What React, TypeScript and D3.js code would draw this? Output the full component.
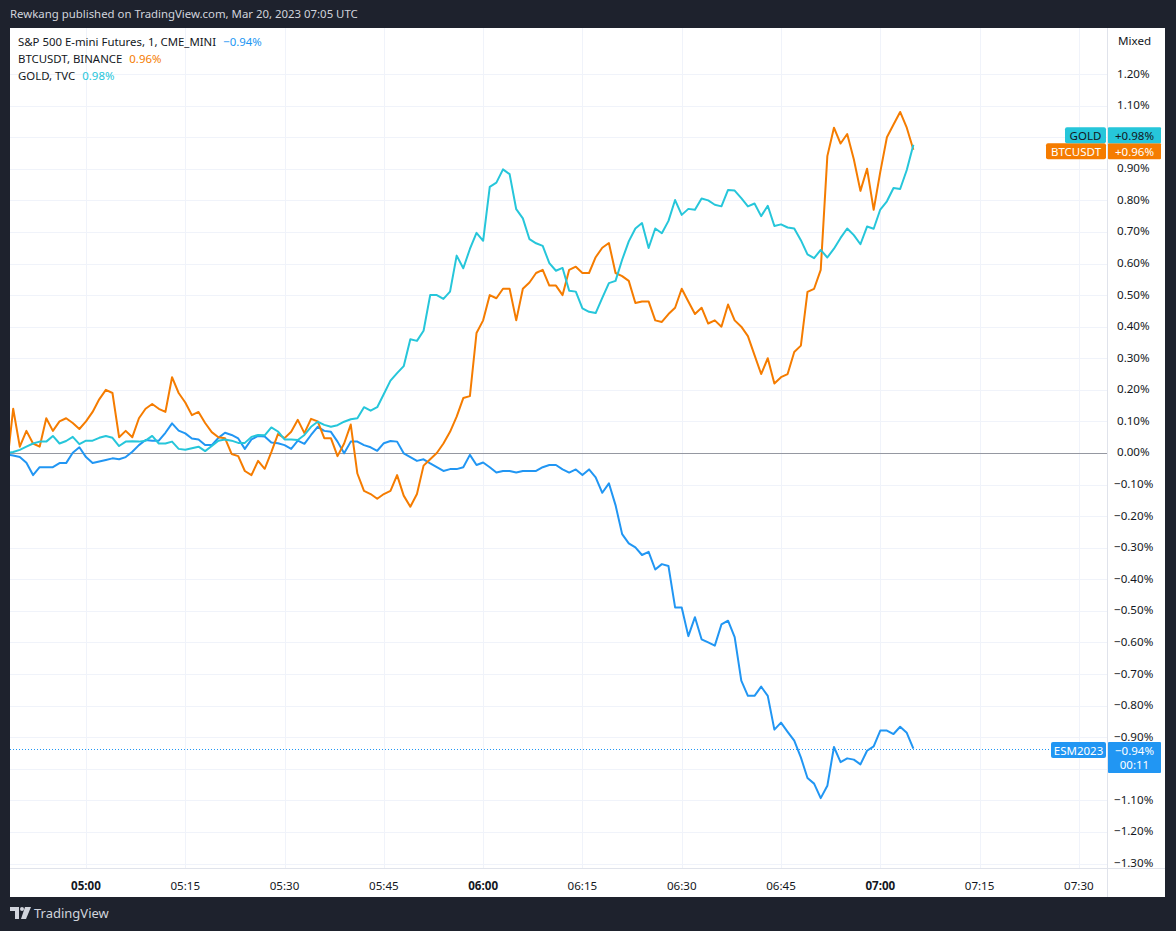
import React, { useEffect, useRef } from 'react'
import * as d3 from 'd3'

// 1-minute closes, % change, starting 04:48 UTC
const START = Date.UTC(2023, 2, 20, 4, 48)

const esValues = [
  -0.005, -0.008, -0.013, -0.031, -0.07, -0.045, -0.045, -0.045, -0.032, -0.032,
  0.001, 0.018, -0.013, -0.032, -0.027, -0.022, -0.017, -0.02, -0.013, 0.004,
  0.025, 0.041, 0.039, 0.039, 0.064, 0.094, 0.071, 0.062, 0.046, 0.043,
  0.025, 0.025, 0.048, 0.064, 0.057, 0.046, 0.013, 0.043, 0.054, 0.052,
  0.033, 0.031, 0.025, 0.013, 0.039, 0.029, 0.057, 0.083, 0.07, 0.067,
  0.036, -0.001, 0.036, 0.036, 0.025, 0.018, 0.007, 0.031, 0.038, 0.036,
  -0.001, -0.013, -0.025, -0.02, -0.033, -0.045, -0.057, -0.051, -0.051, -0.045,
  -0.006, -0.038, -0.03, -0.045, -0.062, -0.057, -0.057, -0.062, -0.057, -0.057,
  -0.057, -0.045, -0.038, -0.038, -0.052, -0.062, -0.052, -0.07, -0.052, -0.077,
  -0.126, -0.096, -0.165, -0.257, -0.286, -0.299, -0.323, -0.313, -0.369, -0.352,
  -0.358, -0.489, -0.489, -0.58, -0.52, -0.59, -0.6, -0.61, -0.543, -0.531,
  -0.583, -0.721, -0.769, -0.769, -0.74, -0.769, -0.876, -0.854, -0.883, -0.911,
  -0.964, -1.029, -1.047, -1.093, -1.054, -0.931, -0.979, -0.967, -0.971, -0.986,
  -0.943, -0.929, -0.879, -0.879, -0.89, -0.867, -0.886, -0.936,
]

const btcValues = [
  -0.05, 0.14, 0.02, 0.07, 0.03, 0.02, 0.11, 0.07, 0.1, 0.11,
  0.095, 0.076, 0.1, 0.13, 0.17, 0.2, 0.19, 0.05, 0.07, 0.05,
  0.11, 0.14, 0.155, 0.14, 0.13, 0.24, 0.19, 0.16, 0.12, 0.13,
  0.095, 0.066, 0.05, 0.047, -0.003, -0.01, -0.057, -0.07, -0.025, -0.05,
  0.003, 0.06, 0.047, 0.067, 0.105, 0.063, 0.108, 0.1, 0.047, 0.047,
  -0.01, 0.03, 0.09, -0.065, -0.12, -0.13, -0.145, -0.13, -0.12, -0.07,
  -0.135, -0.17, -0.13, -0.04, -0.02, 0.0, 0.03, 0.067, 0.115, 0.174,
  0.18, 0.38, 0.42, 0.5, 0.49, 0.52, 0.52, 0.42, 0.52, 0.54,
  0.57, 0.58, 0.53, 0.53, 0.5, 0.58, 0.59, 0.57, 0.57, 0.62,
  0.65, 0.665, 0.57, 0.56, 0.545, 0.475, 0.48, 0.48, 0.42, 0.415,
  0.44, 0.46, 0.52, 0.48, 0.44, 0.46, 0.41, 0.42, 0.4, 0.47,
  0.42, 0.4, 0.37, 0.31, 0.25, 0.3, 0.22, 0.24, 0.25, 0.32,
  0.34, 0.51, 0.52, 0.58, 0.94, 1.03, 0.98, 1.01, 0.93, 0.83,
  0.9, 0.77, 0.89, 1.0, 1.04, 1.08, 1.03, 0.96,
]

const goldValues = [
  0.0, 0.003, 0.01, 0.02, 0.03, 0.036, 0.036, 0.054, 0.03, 0.038,
  0.051, 0.028, 0.039, 0.039, 0.048, 0.054, 0.048, 0.022, 0.036, 0.037,
  0.036, 0.039, 0.054, 0.03, 0.03, 0.036, 0.013, 0.01, 0.015, 0.02,
  0.006, 0.022, 0.039, 0.043, 0.039, 0.032, 0.032, 0.051, 0.057, 0.056,
  0.081, 0.068, 0.043, 0.043, 0.041, 0.057, 0.083, 0.099, 0.089, 0.083,
  0.088, 0.099, 0.107, 0.11, 0.145, 0.134, 0.145, 0.187, 0.229, 0.253,
  0.275, 0.36, 0.355, 0.387, 0.5, 0.5, 0.488, 0.511, 0.625, 0.585,
  0.646, 0.697, 0.672, 0.843, 0.856, 0.898, 0.883, 0.772, 0.743, 0.677,
  0.664, 0.656, 0.601, 0.577, 0.586, 0.514, 0.511, 0.458, 0.447, 0.443,
  0.491, 0.538, 0.545, 0.612, 0.67, 0.711, 0.728, 0.649, 0.711, 0.696,
  0.735, 0.801, 0.754, 0.773, 0.77, 0.806, 0.8, 0.786, 0.781, 0.833,
  0.831, 0.807, 0.781, 0.79, 0.75, 0.783, 0.719, 0.724, 0.714, 0.711,
  0.674, 0.629, 0.617, 0.643, 0.619, 0.647, 0.681, 0.711, 0.69, 0.661,
  0.717, 0.71, 0.771, 0.797, 0.839, 0.836, 0.896, 0.976,
]

const seriesNames = ['S&P 500 E-mini Futures, 1, CME_MINI', 'BTCUSDT, BINANCE', 'GOLD, TVC']
const seriesTickers = ['ESM2023', 'BTCUSDT', 'GOLD']

const timeTicks = ['05:00', '05:15', '05:30', '05:45', '06:00', '06:15', '06:30', '06:45', '07:00', '07:15', '07:30']
const priceTicks = [1.2, 1.1, 1.0, 0.9, 0.8, 0.7, 0.6, 0.5, 0.4, 0.3, 0.2, 0.1, 0.0,
  -0.1, -0.2, -0.3, -0.4, -0.5, -0.6, -0.7, -0.8, -0.9, -1.0, -1.1, -1.2, -1.3]

const headerText = 'Rewkang published on TradingView.com, Mar 20, 2023 07:05 UTC'
const countdown = '00:11'

// styles
const seriesColors = ['#2196f3', '#f57c00', '#26c6da']
const badgeTextColors = ['#ffffff', '#ffffff', '#131722']
const badgeWidths = [55, 60, 41]

const W = 1176
const H = 931
const FONT = '"Noto Sans", "Open Sans", sans-serif'

function App() {
  const ref = useRef<SVGSVGElement>(null)

  useEffect(() => {
    const svg = d3.select(ref.current)
    svg.selectAll('*').remove()

    const panel = { left: 10, top: 28, right: 1165, bottom: 897 }
    const plot = { left: 10, top: 28, right: 1107, bottom: 868 }

    const minute = 60000
    const x = d3.scaleUtc()
      .domain([new Date(START + 0.52 * minute), new Date(START + 166.25 * minute)])
      .range([plot.left, plot.right])
    const y = d3.scaleLinear()
      .domain([-1.3142, 1.3458])
      .range([plot.bottom, plot.top])

    const toDate = (s: string) => {
      const [h, m] = s.split(':').map(Number)
      return new Date(Date.UTC(2023, 2, 20, h, m))
    }
    const fmt = (v: number) => d3.format('.2f')(v).replace('-', '−')

    const all = [esValues, btcValues, goldValues]
    const lastOf = (k: number) => all[k][all[k].length - 1]

    // badge layout: bottom first, pushed up when they collide
    const order = [0, 1, 2].sort((a, b) => y(lastOf(b)) - y(lastOf(a)))
    let prev = Infinity
    const badgeLayout = order.map(k => {
      const cy = Math.min(y(lastOf(k)) + 1.5, prev - 16)
      prev = cy
      const top = cy - 8
      const bottom = top + (k === 0 ? 31 : 16)
      return { k, cy, top, bottom }
    })

    // background
    svg.append('rect').attr('width', W).attr('height', H).attr('fill', '#1e222d')
    svg.append('rect')
      .attr('x', panel.left).attr('y', panel.top)
      .attr('width', panel.right - panel.left).attr('height', panel.bottom - panel.top)
      .attr('fill', '#ffffff')

    svg.append('text')
      .attr('x', 10).attr('y', 18)
      .attr('font-family', FONT).attr('font-size', 11.4)
      .attr('fill', '#d1d4dc')
      .text(headerText)

    // grid
    const grid = svg.append('g').attr('stroke', '#f0f3fa').attr('stroke-width', 1)
    priceTicks.forEach(p => {
      if (p === 0) return
      grid.append('line')
        .attr('x1', plot.left).attr('x2', plot.right)
        .attr('y1', Math.round(y(p)) + 0.5).attr('y2', Math.round(y(p)) + 0.5)
    })
    timeTicks.forEach(t => {
      const xx = Math.round(x(toDate(t))) + 0.5
      grid.append('line')
        .attr('x1', xx).attr('x2', xx)
        .attr('y1', plot.top).attr('y2', plot.bottom)
    })

    // zero line
    svg.append('line')
      .attr('x1', plot.left).attr('x2', plot.right)
      .attr('y1', Math.round(y(0)) + 0.5).attr('y2', Math.round(y(0)) + 0.5)
      .attr('stroke', '#9598a1').attr('stroke-width', 1)

    // axis separators
    svg.append('line')
      .attr('x1', plot.right + 0.5).attr('x2', plot.right + 0.5)
      .attr('y1', panel.top).attr('y2', panel.bottom)
      .attr('stroke', '#e0e3eb')
    svg.append('line')
      .attr('x1', panel.left).attr('x2', panel.right)
      .attr('y1', plot.bottom + 0.5).attr('y2', plot.bottom + 0.5)
      .attr('stroke', '#e0e3eb')

    // lines
    svg.append('clipPath').attr('id', 'plot-clip')
      .append('rect')
      .attr('x', plot.left).attr('y', plot.top)
      .attr('width', plot.right - plot.left).attr('height', plot.bottom - plot.top)

    const line = d3.line<number>()
      .x((_, i) => x(new Date(START + i * minute)))
      .y(d => y(d))

    const lastY = y(lastOf(0))
    svg.append('line')
      .attr('x1', plot.left).attr('x2', plot.right - badgeWidths[0])
      .attr('y1', Math.round(lastY) + 0.5).attr('y2', Math.round(lastY) + 0.5)
      .attr('stroke', seriesColors[0]).attr('stroke-width', 1)
      .attr('stroke-dasharray', '1 2')

    const lines = svg.append('g').attr('clip-path', 'url(#plot-clip)')
    all.forEach((vals, k) => {
      lines.append('path')
        .attr('d', line(vals))
        .attr('fill', 'none')
        .attr('stroke', seriesColors[k])
        .attr('stroke-width', 2)
        .attr('stroke-linejoin', 'round')
    })

    // legend
    const legend = svg.append('g').attr('font-family', FONT).attr('font-size', 11.4)
    seriesNames.forEach((name, k) => {
      const t = legend.append('text').attr('x', 18).attr('y', 46 + k * 17)
      t.append('tspan').attr('fill', '#131722').text(name)
      t.append('tspan').attr('dx', 7).attr('fill', seriesColors[k]).text(fmt(lastOf(k)) + '%')
    })

    // price axis (labels hidden behind badges are skipped)
    const axis = svg.append('g').attr('font-family', FONT).attr('font-size', 11.6).attr('fill', '#131722')
    axis.append('text').attr('x', 1118).attr('y', 45).text('Mixed')
    priceTicks.forEach(p => {
      const py = y(p)
      if (badgeLayout.some(b => py > b.top - 3 && py < b.bottom + 3)) return
      axis.append('text')
        .attr('x', p < 0 ? 1114 : 1117)
        .attr('y', py + 3.5)
        .text(fmt(p) + '%')
    })

    // time axis
    timeTicks.forEach(t => {
      axis.append('text')
        .attr('x', x(toDate(t)))
        .attr('y', 890)
        .attr('text-anchor', 'middle')
        .attr('font-weight', t.endsWith(':00') ? 700 : 400)
        .text(t)
    })

    // last value badges
    const badges = svg.append('g').attr('font-family', FONT).attr('font-size', 11.5)
    badgeLayout.forEach(({ k, cy, top, bottom }) => {
      const last = lastOf(k)
      const wName = badgeWidths[k]
      badges.append('rect')
        .attr('x', 1106 - wName).attr('y', top)
        .attr('width', wName).attr('height', 16).attr('rx', 2)
        .attr('fill', seriesColors[k])
      badges.append('text')
        .attr('x', 1106 - wName / 2).attr('y', cy + 4.5)
        .attr('text-anchor', 'middle')
        .attr('fill', badgeTextColors[k])
        .text(seriesTickers[k])
      badges.append('rect')
        .attr('x', 1108).attr('y', top)
        .attr('width', 53).attr('height', bottom - top).attr('rx', 1)
        .attr('fill', seriesColors[k])
      badges.append('text')
        .attr('x', 1134.5).attr('y', cy + 4.5)
        .attr('text-anchor', 'middle')
        .attr('fill', badgeTextColors[k])
        .text((last >= 0 ? '+' : '') + fmt(last) + '%')
      if (k === 0) {
        badges.append('text')
          .attr('x', 1134.5).attr('y', cy + 19)
          .attr('text-anchor', 'middle')
          .attr('fill', badgeTextColors[k])
          .text(countdown)
      }
    })

    // footer logo
    const logo = svg.append('g').attr('fill', '#d1d4dc')
    logo.append('path').attr('d', 'M10,907 h9 v12 h-4 v-8 h-5 z')
    logo.append('circle').attr('cx', 22).attr('cy', 909).attr('r', 2)
    logo.append('path').attr('d', 'M25,907 h6 l-5,12 h-5 z')
    svg.append('text')
      .attr('x', 34).attr('y', 918)
      .attr('font-family', FONT).attr('font-size', 13)
      .attr('fill', '#d1d4dc')
      .text('TradingView')
  }, [])

  return (
    <svg ref={ref} width={W} height={H}
      style={{ position: 'absolute', left: 0, top: 0, display: 'block' }} />
  )
}

export default App
